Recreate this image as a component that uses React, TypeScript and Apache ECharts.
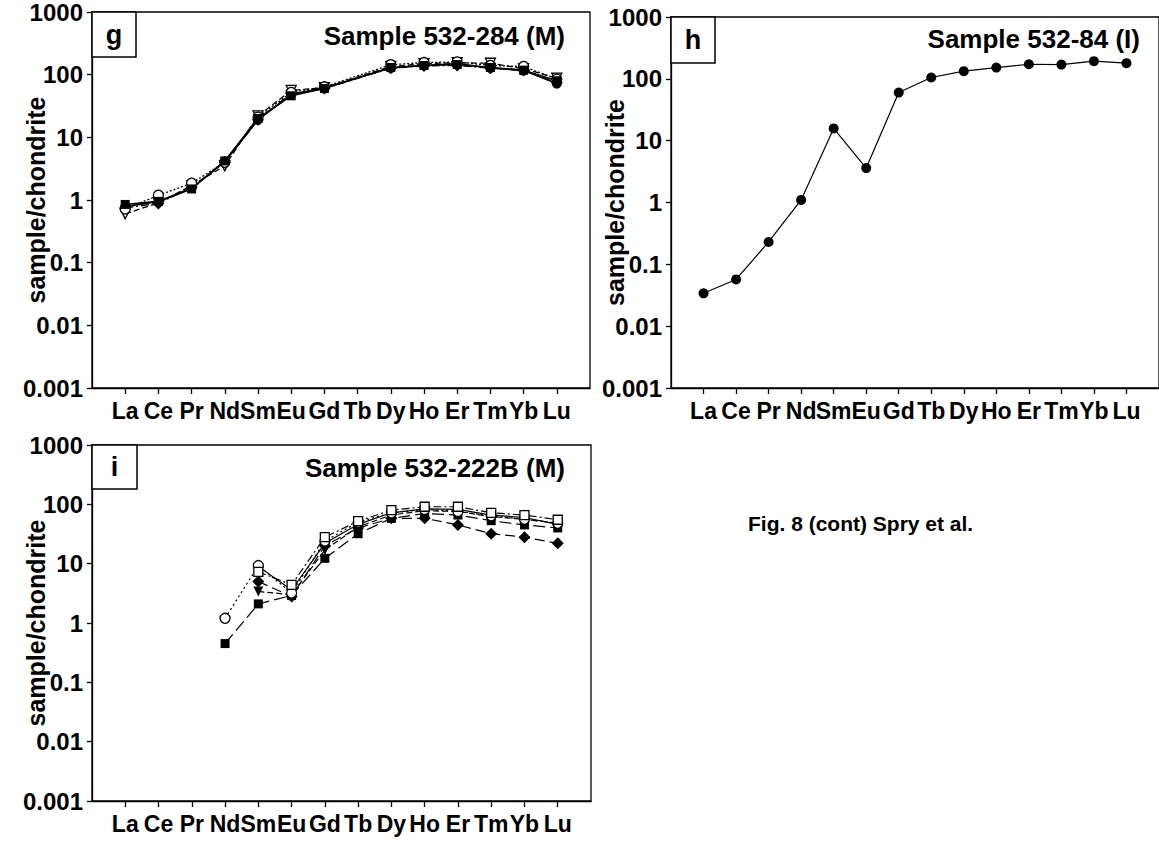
import React, { useEffect, useRef } from "react";
import * as echarts from "echarts";

// ---- Data -------------------------------------------------------------
const ELEMENTS = ["La", "Ce", "Pr", "Nd", "Sm", "Eu", "Gd", "Tb", "Dy", "Ho", "Er", "Tm", "Yb", "Lu"];
const Y_TICK_VALUES = [0.001, 0.01, 0.1, 1, 10, 100, 1000];
const Y_TICK_LABELS = ["0.001", "0.01", "0.1", "1", "10", "100", "1000"];

const PANEL_TITLES = ["Sample 532-284 (M)", "Sample 532-84 (I)", "Sample 532-222B (M)"];
const PANEL_LETTERS = ["g", "h", "i"];
const Y_AXIS_NAME = "sample/chondrite";
const FIG_CAPTION = "Fig. 8 (cont) Spry et al.";

// Panel g: Sample 532-284 (M)  (Tb not analysed)
const gFilledSquare = [0.85, 0.95, 1.5, 4.2, 20, 46, 60, null, 130, 140, 145, 130, 118, 80];
const gOpenCircle = [0.72, 1.19, 1.85, 4.0, 21, 52, 64, null, 144, 156, 160, 140, 135, 85];
const gOpenTriangle = [0.6, 0.9, 1.7, 3.5, 22, 56, 62, null, 135, 150, 155, 152, 125, 88];
const gFilledDiamond = [0.75, 0.88, 1.6, 4.0, 19, 50, 60, null, 127, 138, 140, 127, 118, 75];
const gFilledCircle = [0.78, 0.95, 1.55, 4.1, 19, 48, 62, null, 128, 140, 150, 128, 116, 72];

// Panel h: Sample 532-84 (I)
const hFilledCircle = [0.034, 0.057, 0.23, 1.1, 15.8, 3.6, 60, 105, 133, 152, 172, 170, 193, 179];

// Panel i: Sample 532-222B (M)
const iFilledSquare = [null, null, null, 0.45, 2.1, 2.9, 12.3, 32, 58, 70, 66, 53, 45, 40];
const iOpenCircle = [null, null, null, 1.2, 9.3, 3.2, 24, 50, 72, 82, 76, 64, 56, 48];
const iFilledDiamond = [null, null, null, null, 5.0, 2.8, 20, 40, 58, 58, 45, 32, 28, 22];
const iFilledTriangle = [null, null, null, null, 3.4, 3.0, 17, 42, 66, 78, 76, 62, 56, 48];
const iFilledCircle = [null, null, null, null, 9.0, 3.6, 22, 46, 72, 84, 82, 66, 60, 46];
const iOpenSquare = [null, null, null, null, 7.3, 4.4, 28, 52, 80, 91, 91, 72, 66, 55];

// ---- Styling helpers --------------------------------------------------
const FONT = '"Liberation Sans", Arial, Helvetica, sans-serif';
const TICK_POS = ELEMENTS.map((_, i) => i + 1);

type Marker = "sq" | "osq" | "ci" | "oci" | "di" | "tri" | "otri";

function markerProps(m: Marker) {
  const open = m === "osq" || m === "oci" || m === "otri";
  const symbol = m === "sq" || m === "osq" ? "rect" : m === "ci" || m === "oci" ? "circle" : m === "di" ? "diamond" : "triangle";
  const size = symbol === "rect" ? 9 : symbol === "diamond" ? 12 : 10;
  return {
    symbol,
    symbolSize: size,
    symbolRotate: m === "tri" || m === "otri" ? 180 : 0,
    itemStyle: {
      color: open ? "#ffffff" : "#000000",
      borderColor: "#000000",
      borderWidth: open ? 1.3 : 0,
    },
  };
}

function makeSeries(values: (number | null)[], panel: number, marker: Marker, dash: any, width = 1.3) {
  return {
    type: "line",
    xAxisIndex: panel,
    yAxisIndex: panel,
    data: values.map((v, i) => [i + 1, v]),
    connectNulls: true,
    ...markerProps(marker),
    lineStyle: { color: "#000", width, type: dash },
    emphasis: { disabled: true },
  };
}

const GRIDS = [
  { left: 92, top: 12, width: 498, height: 376 },
  { left: 671, top: 17, width: 497, height: 371 },
  { left: 92, top: 445, width: 499, height: 356 },
];

export default function App() {
  const ref = useRef<HTMLDivElement>(null);

  useEffect(() => {
    if (!ref.current) return;
    const chart = echarts.init(ref.current, undefined, { renderer: "svg" });

    const xAxes = GRIDS.map((_, k) => ({
      type: "value",
      gridIndex: k,
      min: 0,
      max: 15,
      interval: 1,
      splitLine: { show: false },
      axisLine: { show: true, lineStyle: { color: "#000", width: 1.3 } },
      axisTick: { show: true, customValues: TICK_POS, length: 6, lineStyle: { color: "#000", width: 1.3 } },
      axisLabel: {
        customValues: TICK_POS,
        formatter: (v: number) => ELEMENTS[Math.round(v) - 1] ?? "",
        color: "#000",
        fontSize: 23,
        fontWeight: "bold",
        fontFamily: FONT,
        margin: 11,
        hideOverlap: false,
      },
    }));

    const yAxes = GRIDS.map((_, k) => ({
      type: "log",
      logBase: 10,
      gridIndex: k,
      min: 0.001,
      max: 1000,
      splitLine: { show: false },
      axisLine: { show: true, lineStyle: { color: "#000", width: 1.3 } },
      axisTick: { show: true, customValues: Y_TICK_VALUES, length: 5, lineStyle: { color: "#000", width: 1.3 } },
      axisLabel: {
        customValues: Y_TICK_VALUES,
        formatter: (v: number) => Y_TICK_LABELS[Math.round(Math.log10(v)) + 3] ?? "",
        color: "#000",
        fontSize: 24,
        fontWeight: "bold",
        fontFamily: FONT,
        margin: 9,
      },
      name: Y_AXIS_NAME,
      nameLocation: "middle",
      nameGap: 44,
      nameMoveOverlap: false,
      nameTextStyle: { color: "#000", fontSize: 25, fontWeight: "bold", fontFamily: FONT },
    }));

    const series = [
      makeSeries(gFilledCircle, 0, "ci", "solid", 1.6),
      makeSeries(gFilledDiamond, 0, "di", [8, 3, 2, 3]),
      makeSeries(gOpenTriangle, 0, "otri", [6, 3]),
      makeSeries(gOpenCircle, 0, "oci", [2, 2]),
      makeSeries(gFilledSquare, 0, "sq", "solid", 1.6),

      makeSeries(hFilledCircle, 1, "ci", "solid", 1.2),

      makeSeries(iFilledSquare, 2, "sq", [12, 5], 1.2),
      makeSeries(iFilledDiamond, 2, "di", [10, 5], 1.2),
      makeSeries(iFilledTriangle, 2, "tri", [6, 3], 1.2),
      makeSeries(iFilledCircle, 2, "ci", "solid", 1.2),
      makeSeries(iOpenCircle, 2, "oci", [2, 3], 1.2),
      makeSeries(iOpenSquare, 2, "osq", [8, 3, 2, 3], 1.2),
    ];

    const titleY = [36, 39, 468];
    const titleRight = [565, 1140, 565];
    const boxes = [
      { x: 92, y: 12, w: 44, h: 45 },
      { x: 671, y: 17, w: 44, h: 46 },
      { x: 92, y: 445, w: 45, h: 44 },
    ];

    const graphic: any[] = [];
    boxes.forEach((b, k) => {
      graphic.push({
        type: "rect",
        z: 100,
        shape: { x: b.x, y: b.y, width: b.w, height: b.h },
        style: { fill: "#fff", stroke: "#000", lineWidth: 1.5 },
      });
      graphic.push({
        type: "text",
        z: 101,
        x: b.x + b.w / 2,
        y: b.y + b.h / 2,
        style: {
          text: PANEL_LETTERS[k],
          align: "center",
          verticalAlign: "middle",
          fontSize: 27,
          fontWeight: "bold",
          fontFamily: FONT,
          fill: "#000",
        },
      });
      graphic.push({
        type: "text",
        z: 101,
        x: titleRight[k],
        y: titleY[k],
        style: {
          text: PANEL_TITLES[k],
          align: "right",
          verticalAlign: "middle",
          fontSize: 26,
          fontWeight: "bold",
          fontFamily: FONT,
          fill: "#000",
        },
      });
    });
    graphic.push({
      type: "text",
      z: 101,
      x: 748,
      y: 523,
      style: {
        text: FIG_CAPTION,
        align: "left",
        verticalAlign: "middle",
        fontSize: 21,
        fontWeight: "bold",
        fontFamily: FONT,
        fill: "#000",
      },
    });

    chart.setOption({
      animation: false,
      backgroundColor: "#fff",
      grid: GRIDS.map((g) => ({ ...g, show: true, borderColor: "#000", borderWidth: 1.3, backgroundColor: "transparent" })),
      xAxis: xAxes,
      yAxis: yAxes,
      series,
      graphic,
    });

    return () => chart.dispose();
  }, []);

  return (
    <div
      ref={ref}
      style={{ position: "absolute", left: 0, top: 0, width: 1159, height: 846, overflow: "hidden", background: "#fff" }}
    />
  );
}
